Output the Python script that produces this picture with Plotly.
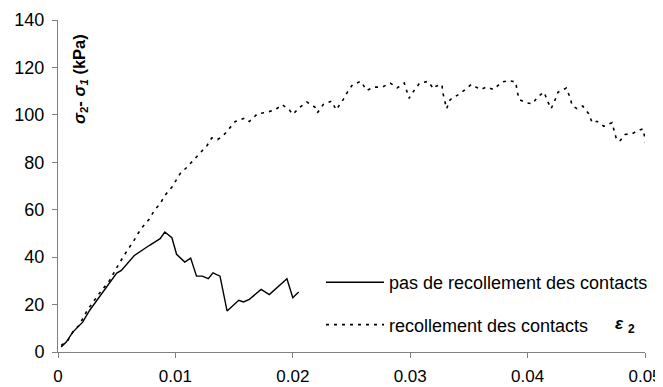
import plotly.graph_objects as go

# Series 1: "pas de recollement des contacts" (solid)
x_pas = [0.00027, 0.0007, 0.00126, 0.00183, 0.0021, 0.0027, 0.0031, 0.0038, 0.0044, 0.0050,
         0.0054, 0.0060, 0.0065, 0.0078, 0.0087, 0.0091, 0.0097, 0.0101, 0.0108, 0.0113,
         0.0118, 0.0123, 0.0128, 0.0132, 0.0138, 0.0144, 0.0154, 0.0158, 0.0163, 0.0173,
         0.0180, 0.0195, 0.0200, 0.0205]
y_pas = [2.1, 4.2, 8.4, 11.3, 12.6, 17.6, 20.4, 25.3, 29.5, 33.3,
         34.4, 37.9, 40.7, 45.0, 47.8, 50.6, 48.2, 41.2, 37.9, 39.6,
         32.0, 32.0, 30.9, 33.4, 32.0, 17.3, 21.8, 21.1, 22.2, 26.4,
         24.2, 30.9, 22.9, 25.3]

# Series 2: "recollement des contacts" (dotted)
x_rec = [0.00027, 0.00084, 0.00126, 0.0018, 0.0025, 0.0030, 0.0035, 0.0044, 0.0048, 0.0052,
         0.0060, 0.0064, 0.0068, 0.0072, 0.0078, 0.0082, 0.0087, 0.0091, 0.0097, 0.0104,
         0.0110, 0.0116, 0.0121, 0.0127, 0.0131, 0.0136, 0.0141, 0.0146, 0.0151, 0.0159,
         0.0163, 0.0170, 0.0177, 0.0185, 0.0191, 0.0197, 0.0200, 0.0206, 0.0212, 0.0219,
         0.0221, 0.0226, 0.0233, 0.0237, 0.0239, 0.0243, 0.0247, 0.0251, 0.0258, 0.0263,
         0.0269, 0.0276, 0.0283, 0.0289, 0.0295, 0.0297, 0.0299, 0.0303, 0.0308, 0.0315,
         0.0320, 0.0322, 0.0327, 0.0328, 0.0330, 0.0331, 0.0334, 0.0341, 0.0347, 0.0352,
         0.0360, 0.0365, 0.0371, 0.0378, 0.0384, 0.0390, 0.0391, 0.0393, 0.0399, 0.0404,
         0.0409, 0.0414, 0.0417, 0.0420, 0.0423, 0.0426, 0.0433, 0.0436, 0.0438, 0.0442,
         0.0447, 0.0452, 0.0455, 0.0459, 0.0465, 0.0472, 0.0474, 0.0476, 0.0479, 0.0483,
         0.0490, 0.0494, 0.0498, 0.0500, 0.0501]
y_rec = [2.8, 4.9, 8.4, 11.3, 17.6, 21.1, 24.6, 30.2, 33.7, 37.3,
         43.6, 46.4, 49.9, 52.7, 56.2, 59.7, 62.5, 66.0, 69.5, 75.2,
         78.0, 81.1, 83.6, 87.1, 90.3, 89.6, 91.4, 94.1, 97.2, 98.6,
         97.2, 100.5, 101.0, 102.1, 104.3, 102.1, 100.2, 103.2, 105.4, 103.2,
         100.9, 104.4, 105.8, 102.1, 103.5, 106.5, 110.0, 112.8, 114.1, 110.3,
         111.7, 111.7, 113.4, 111.4, 113.4, 109.6, 107.0, 110.0, 113.4, 114.1,
         111.0, 112.1, 112.8, 108.9, 105.1, 102.6, 106.4, 108.5, 110.7, 112.8,
         110.7, 111.7, 110.7, 113.8, 114.5, 113.8, 110.0, 106.4, 105.1, 104.7,
         107.8, 109.6, 105.8, 102.6, 105.8, 109.6, 111.3, 107.5, 104.0, 102.6,
         103.7, 100.5, 96.7, 97.3, 95.2, 96.7, 92.7, 89.2, 89.2, 91.7,
         92.3, 93.4, 94.1, 90.3, 86.7]

x_ticks = [0, 0.01, 0.02, 0.03, 0.04, 0.05]
x_tick_labels = ["0", "0.01", "0.02", "0.03", "0.04", "0.05"]
y_ticks = [0, 20, 40, 60, 80, 100, 120, 140]

FONT = "Liberation Sans, Arial, sans-serif"
OFF = 8  # page body margin
W, H = 663 - OFF, 387 - OFF
L, R, T, B = 50, 18, 12, 35
PW = W - L - R
PH = H - T - B


def px_x(px):
    return (px - OFF - L) / PW


def px_y(py):
    return (H - B - (py - OFF)) / PH


fig = go.Figure()
fig.add_trace(go.Scatter(x=x_pas, y=y_pas, mode="lines",
                         name="pas de recollement des contacts",
                         line=dict(color="black", width=1.4),
                         legendgroup="a"))
fig.add_trace(go.Scatter(x=x_rec, y=y_rec, mode="lines",
                         name="recollement des contacts",
                         line=dict(color="black", width=1.6, dash="3px,5px"),
                         legendgroup="b"))

fig.update_layout(
    width=W, height=H,
    margin=dict(l=L, r=R, t=T, b=B, autoexpand=False),
    paper_bgcolor="white", plot_bgcolor="white",
    font=dict(family=FONT, color="black", size=17),
    showlegend=True,
    legend=dict(x=px_x(321), y=px_y(264), xanchor="left", yanchor="top",
                bgcolor="rgba(0,0,0,0)", font=dict(size=18, family=FONT),
                itemwidth=58, tracegroupgap=16, itemclick=False),
    xaxis=dict(range=[0, 0.05], tickvals=x_ticks, ticktext=x_tick_labels,
               showgrid=False, zeroline=False, showline=True, automargin=False,
               linecolor="#808080", linewidth=1, ticks="outside",
               ticklen=5, tickcolor="#808080", tickfont=dict(size=17),
               ticklabelstandoff=4),
    yaxis=dict(range=[0, 140], tickvals=y_ticks,
               showgrid=False, zeroline=False, showline=True, automargin=False,
               linecolor="#808080", linewidth=1, ticks="outside",
               ticklen=5, tickcolor="#808080", tickfont=dict(size=18),
               ticklabelstandoff=4),
)

fig.add_annotation(text="<b><i>σ</i><sub>2</sub>- <i>σ</i><sub><i>1</i></sub> (kPa)</b>",
                   xref="paper", yref="paper", xanchor="center", yanchor="middle",
                   x=px_x(80), y=px_y(79),
                   textangle=-90, showarrow=False, font=dict(size=16.5, family=FONT))
fig.add_annotation(text="<b><i>ε</i> <sub>2</sub></b>",
                   xref="paper", yref="paper", xanchor="center", yanchor="middle",
                   x=px_x(625), y=px_y(325),
                   showarrow=False, font=dict(size=17, family=FONT))

fig.write_html("out.html")
